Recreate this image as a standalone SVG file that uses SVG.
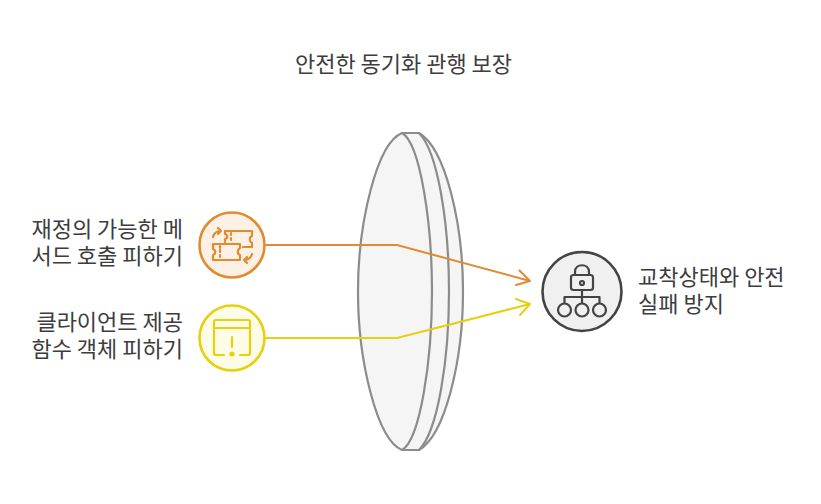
<svg xmlns="http://www.w3.org/2000/svg" width="821" height="504" viewBox="0 0 821 504">
<style>
text{font-family:"Noto Sans CJK KR","Noto Sans",sans-serif;font-size:22px;fill:#3d3d3d}
.lens{fill:#f5f5f5;stroke:#8c8c8c;stroke-width:2.2;stroke-linejoin:round}
.ico{fill:none;stroke-width:2.2;stroke-linecap:round;stroke-linejoin:round}
.conn{fill:none;stroke-width:2;stroke-linecap:round;stroke-linejoin:round}
</style>
<rect width="821" height="504" fill="#fff"/>
<text id="title" x="403.500" y="72" text-anchor="middle">안전한 동기화 관행 보장</text>
<g id="lens">
<path class="lens" d="M402 133H419C445 148 463 222 463 291.500C463 361 445 435 419 450H402Z"/>
<path class="lens" style="fill:none" d="M419 133C438 152 449 224 449 291.500C449 359 438 431 419 450"/>
<path class="lens" d="M402 133C377 143 358 222 358 291.500C358 361 377 440 402 450C420 440 432 361 432 291.500C432 222 420 143 402 133Z"/>
</g>
<g id="connectors">
<path class="conn" stroke="#e08a32" d="M266 245H397L530 281M519.500 270.500L530 281L516 285"/>
<path class="conn" stroke="#e6d00f" d="M266 338H397L530 304M516 299L530 304L520 315"/>
</g>
<g id="node-method">
<circle cx="232" cy="245" r="32.500" fill="#fdf0e4" stroke="#e08a32" stroke-width="2.600"/>
<g class="ico" stroke="#e08a32">
<path d="M225 231H252V236C249 237 249 241 252 243V247H243"/>
<path d="M225 231V234C228 235 228 238 225 239V242"/>
<path d="M231 233V235M231 238V240"/>
<path d="M213 244H240V248C237 250 237 254 240 255V260H213V255C216 254 216 250 213 249Z"/>
<path d="M220 246V248M220 250V252M220 255V257"/>
<path d="M213 237C214 233 217 231 221 231M218 228L221 231L218 234"/>
<path d="M252 254C251 258 248 260 244 260M247 257L244 260L247 263"/>
</g>
</g>
<g id="node-object">
<circle cx="232" cy="338" r="32.500" fill="#fefbe6" stroke="#e6d00f" stroke-width="2.600"/>
<g class="ico" stroke="#e6d00f">
<path d="M224 355H216Q214 355 214 353V322Q214 320 216 320H248Q250 320 250 322V353Q250 355 248 355H240"/>
<path d="M214 328H250"/>
<path d="M232 337V347"/>
<circle cx="232" cy="354" r="1.500" fill="#e6d00f"/>
</g>
</g>
<g id="node-safe">
<circle cx="582" cy="291.500" r="39.500" fill="#f0f0f0" stroke="#444" stroke-width="2.600"/>
<g class="ico" stroke="#444">
<rect x="571" y="275" width="22" height="15" rx="2.500"/>
<path d="M575 275V272C575 263 589 263 589 272V275"/>
<circle cx="582" cy="283" r="2"/>
<path d="M582 290V303M564.500 303V297H599.500V303"/>
<circle cx="564.500" cy="310" r="6.500"/>
<circle cx="582" cy="310" r="6.500"/>
<circle cx="599.500" cy="310" r="6.500"/>
</g>
</g>
<g id="labels">
<text x="183" y="237" text-anchor="end">재정의 가능한 메</text>
<text x="183" y="264" text-anchor="end">서드 호출 피하기</text>
<text x="183" y="330" text-anchor="end">클라이언트 제공</text>
<text x="183" y="357" text-anchor="end">함수 객체 피하기</text>
<text x="638" y="285">교착상태와 안전</text>
<text x="638" y="312">실패 방지</text>
</g>
</svg>
